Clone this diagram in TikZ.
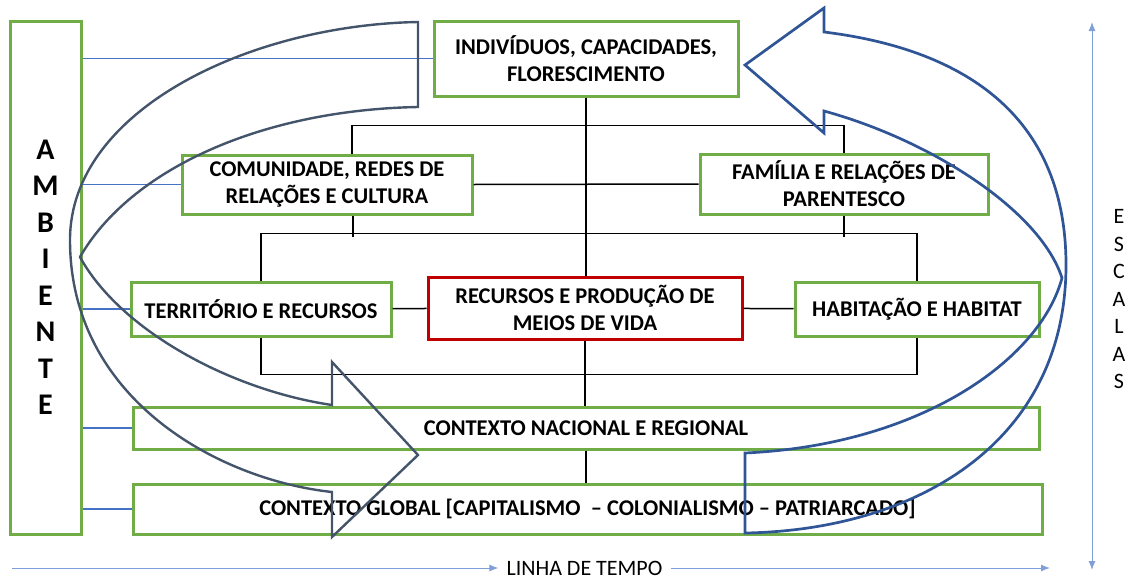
\documentclass[tikz,border=0pt]{standalone}
\usepackage{fontspec}
\setmainfont{Carlito}
\usetikzlibrary{arrows.meta}

\definecolor{verde}{HTML}{70AD47}
\definecolor{vermelho}{HTML}{C00000}
\definecolor{azul}{HTML}{4472C4}
\definecolor{azulclaro}{HTML}{7F9FD8}
\definecolor{ardosia}{HTML}{44546A}
\definecolor{azulescuro}{HTML}{2F5597}

\begin{document}
\begin{tikzpicture}[x=1pt,y=-1pt,
    caixa/.style={draw=verde,line width=3pt,align=center,inner sep=0pt,
        font=\fontsize{22.5}{27}\selectfont\bfseries},
    liga/.style={draw=black,line width=1.5pt},
    fio/.style={draw=azul,line width=1.3pt},
    eixo/.style={draw=azulclaro,line width=1pt},
    curva/.style={line width=2.4pt,line join=miter}]
    \useasboundingbox (0,0) rectangle (1132,581);

    % caixas
    \node[caixa,minimum width=71,minimum height=513,font=\fontsize{30}{36.5}\selectfont\bfseries] (ambiente) at (45.5,277.5) {A\\M\\B\\I\\E\\N\\T\\E};
    \node[caixa,minimum width=304,minimum height=75] (indiv) at (586,58.5) {INDIVÍDUOS, CAPACIDADES,\\FLORESCIMENTO};
    \node[caixa,minimum width=290,minimum height=59] (comun) at (327,184.5) {COMUNIDADE, REDES DE\\RELAÇÕES E CULTURA};
    \node[caixa,minimum width=288,minimum height=60] (familia) at (844,184) {FAMÍLIA E RELAÇÕES DE\\PARENTESCO};
    \node[caixa,minimum width=260,minimum height=54] (territorio) at (261,309) {TERRITÓRIO E RECURSOS};
    \node[caixa,draw=vermelho,minimum width=314,minimum height=62] (recursos) at (585,308) {RECURSOS E PRODUÇÃO DE\\MEIOS DE VIDA};
    \node[caixa,minimum width=244,minimum height=54] (habitacao) at (917,309) {HABITAÇÃO E HABITAT};
    \node[caixa,minimum width=906,minimum height=42] (nacional) at (586,428) {CONTEXTO NACIONAL E REGIONAL};
    \node[caixa,minimum width=909,minimum height=50] (global) at (587.5,509) {CONTEXTO GLOBAL [CAPITALISMO\ \ – COLONIALISMO – PATRIARCADO]};

    % ligacoes
    \draw[liga] (indiv.south) -- (indiv.south |- recursos.north);
    \draw[liga] (recursos.south) -- (recursos.south |- nacional.north);
    \draw[liga] (nacional.south) -- (nacional.south |- global.north);
    \draw[liga] ([xshift=25pt]comun.north) -- ++(0,-28) -| (familia.north);
    \draw[liga] (comun.east) -- (familia.west);
    \draw[liga] ([xshift=26pt]comun.south) -- ++(0,21);
    \draw[liga] (familia.south) -- ++(0,21);
    \draw[liga] (territorio.north) -- ++(0,-47) -| (habitacao.north);
    \draw[liga] (territorio) -- (recursos);
    \draw[liga] (recursos) -- (habitacao);
    \draw[liga] (territorio.south) -- ++(0,37) -| (habitacao.south);

    \foreach \n in {indiv,comun,territorio,nacional,global}
        \draw[fio] (ambiente.east |- \n.west) -- (\n.west);

    % setas curvas
    \draw[curva,draw=ardosia] (418,22) -- (418,107)
        .. controls (260,110) and (130,170) .. (80,257)
        .. controls (120,330) and (230,390) .. (332,405)
        -- (332,362) -- (418,455) -- (332,537) -- (332,492)
        .. controls (220,480) and (70,400) .. (70,240)
        .. controls (70,110) and (250,25) .. cycle;
    \draw[curva,draw=azulescuro,line width=2.7pt] (745,453) -- (745,533)
        .. controls (920,530) and (1066,440) .. (1066,265)
        .. controls (1066,120) and (970,50) .. (824,32)
        -- (824,8) -- (745,65) -- (824,133) -- (824,111)
        .. controls (930,140) and (1040,210) .. (1062,278)
        .. controls (1040,360) and (920,445) .. cycle;

    % eixos
    \node[font=\fontsize{22}{27}\selectfont,inner xsep=8pt,inner ysep=0pt] (tempo) at (584.5,568) {LINHA DE TEMPO};
    \coordinate (t0) at (12,568);
    \coordinate (t1) at (1050,568);
    \draw[eixo,-{Latex[length=9pt,width=7pt]}] (t0) -- (tempo.west);
    \draw[eixo,-{Latex[length=9pt,width=7pt]}] (tempo.east) -- (t1);
    \coordinate (e0) at (1092,22);
    \coordinate (e1) at (1092,570);
    \draw[eixo,{Latex[length=9pt,width=7pt]}-{Latex[length=9pt,width=7pt]}] (e0) -- (e1);
    \node[font=\fontsize{22}{27.5}\selectfont,align=center] (escalas) at (1119,299.5) {E\\S\\C\\A\\L\\A\\S};
\end{tikzpicture}
\end{document}
